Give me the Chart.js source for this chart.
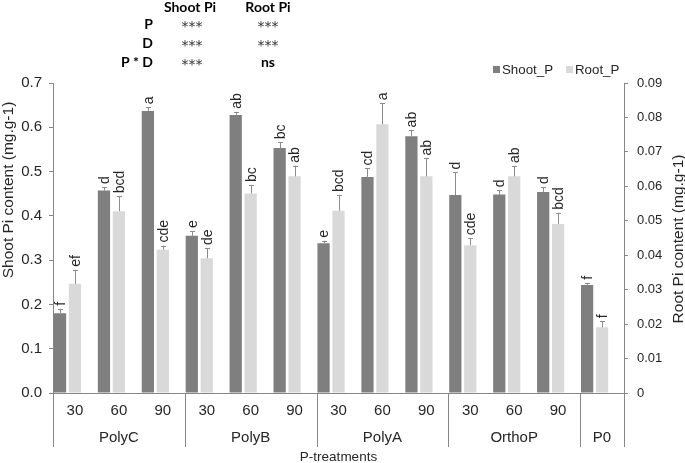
<!DOCTYPE html>
<html>
<head>
<meta charset="utf-8">
<script src="https://cdn.jsdelivr.net/npm/chart.js@4"></script>
<style>
  html,body{margin:0;padding:0;background:#fff;}
  #wrap{width:685px;height:463px;position:relative;}
</style>
</head>
<body>
<div id="wrap"><canvas id="chart" width="685" height="463"></canvas></div>
<script>
// categories along x, then the treatment group each block of them belongs to
const doses = ["30","60","90","30","60","90","30","60","90","30","60","90",""];
const groups = ["PolyC","PolyB","PolyA","OrthoP","P0"];
const groupSizes = [3,3,3,3,1];

// shoot Pi (left axis) and root Pi (right axis), with upper error bars
const shootP   = [0.180,0.457,0.637,0.355,0.628,0.553,0.338,0.488,0.580,0.447,0.448,0.454,0.244];
const shootErr = [0.010,0.008,0.008,0.011,0.007,0.013,0.006,0.019,0.013,0.051,0.010,0.011,0.005];
const rootP    = [0.0317,0.0528,0.0416,0.0391,0.0579,0.0629,0.0529,0.0780,0.0629,0.0429,0.0629,0.0491,0.0191];
const rootErr  = [0.0041,0.0043,0.0012,0.0030,0.0025,0.0031,0.0046,0.0061,0.0052,0.0020,0.0030,0.0032,0.0017];
const shootLetters = ["f","d","a","e","ab","bc","e","cd","ab","d","d","d","f"];
const rootLetters  = ["ef","bcd","cde","de","bc","ab","bcd","a","ab","cde","ab","bcd","f"];

// ANOVA table above the plot
const factors  = ["P","D","P * D"];
const shootSig = ["***","***","***"];
const rootSig  = ["***","***","ns"];

const DARK = "#7f7f7f", LIGHT = "#d9d9d9", AXIS = "#868686", TXT = "#262626";

const extras = {
  id:"extras",
  afterDatasetsDraw(chart){
    const ctx = chart.ctx;
    const sets = [[0,shootP,shootErr,shootLetters,"y"],[1,rootP,rootErr,rootLetters,"y2"]];
    ctx.save();
    sets.forEach(([di,vals,errs,letters,sid])=>{
      const meta = chart.getDatasetMeta(di), sc = chart.scales[sid];
      meta.data.forEach((bar,j)=>{
        const top = sc.getPixelForValue(vals[j]+errs[j]);
        ctx.strokeStyle = "#8c8c8c"; ctx.lineWidth = 1;
        ctx.beginPath();
        ctx.moveTo(Math.round(bar.x)+0.5, bar.y);
        ctx.lineTo(Math.round(bar.x)+0.5, top);
        ctx.moveTo(Math.round(bar.x)-2, Math.round(top)+0.5);
        ctx.lineTo(Math.round(bar.x)+3, Math.round(top)+0.5);
        ctx.stroke();
        ctx.save();
        ctx.translate(bar.x, top-3);
        ctx.rotate(-Math.PI/2);
        ctx.fillStyle = TXT;
        ctx.font = "14px 'Liberation Sans', Arial, sans-serif";
        ctx.textAlign = "left"; ctx.textBaseline = "middle";
        ctx.fillText(letters[j], 0, 1);
        ctx.restore();
      });
    });
    ctx.restore();
  },
  afterDraw(chart){
    const ctx = chart.ctx, a = chart.chartArea;
    const cw = (a.right-a.left)/doses.length;
    ctx.save();
    // group separators and names
    ctx.strokeStyle = AXIS; ctx.lineWidth = 1;
    let idx = 0;
    const bounds = [0];
    groupSizes.forEach(n=>{ idx += n; bounds.push(idx); });
    bounds.forEach(b=>{
      const x = Math.round(a.left + b*cw) + 0.5;
      ctx.beginPath(); ctx.moveTo(x, a.bottom); ctx.lineTo(x, 447); ctx.stroke();
    });
    ctx.fillStyle = TXT;
    ctx.font = "15px 'Liberation Sans', Arial, sans-serif";
    ctx.textAlign = "center"; ctx.textBaseline = "middle";
    groups.forEach((g,i)=>{
      const x = a.left + (bounds[i]+bounds[i+1])/2*cw;
      ctx.fillText(g, x, 438);
    });
    ctx.font = "13.5px 'Liberation Sans', Arial, sans-serif";
    ctx.fillText("P-treatments", (a.left+a.right)/2, 457);

    // axis titles
    ctx.font = "15.5px 'Liberation Sans', Arial, sans-serif";
    ctx.save(); ctx.translate(9,190); ctx.rotate(-Math.PI/2);
    ctx.fillText("Shoot Pi content (mg.g-1)",0,0); ctx.restore();
    ctx.save(); ctx.translate(679,239); ctx.rotate(-Math.PI/2);
    ctx.fillText("Root Pi content (mg.g-1)",0,0); ctx.restore();

    // legend
    ctx.font = "13.3px 'Liberation Sans', Arial, sans-serif";
    ctx.textAlign = "left";
    ctx.fillStyle = DARK; ctx.fillRect(493,66,7,7);
    ctx.fillStyle = TXT; ctx.fillText("Shoot_P",502,70);
    ctx.fillStyle = LIGHT; ctx.fillRect(566,66,7,7);
    ctx.fillStyle = TXT; ctx.fillText("Root_P",575,70);

    // significance table
    ctx.fillStyle = "#000";
    ctx.font = "bold 14px Lato, sans-serif";
    ctx.textAlign = "center";
    ctx.fillText("Shoot Pi",190,7);
    ctx.fillText("Root Pi",268,7);
    const rowsY = [24,43,62];
    const starFont = "14px 'DejaVu Sans', sans-serif";
    factors.forEach((f,i)=>{
      ctx.font = "bold 14px Lato, sans-serif";
      ctx.textAlign = "right";
      ctx.fillText(f,153,rowsY[i]);
      ctx.textAlign = "center";
      if(rootSig[i]==="ns") ctx.fillText(rootSig[i],268,rowsY[i]);
      ctx.font = starFont; ctx.fillStyle = "#333";
      ctx.fillText(shootSig[i],192,rowsY[i]+3);
      if(rootSig[i]!=="ns") ctx.fillText(rootSig[i],268,rowsY[i]+3);
      ctx.fillStyle = "#000";
    });
    ctx.restore();
  }
};

new Chart(document.getElementById("chart"),{
  type:"bar",
  data:{
    labels:doses,
    datasets:[
      {label:"Shoot_P", data:shootP, backgroundColor:DARK, yAxisID:"y"},
      {label:"Root_P", data:rootP, backgroundColor:LIGHT, yAxisID:"y2"},
      {label:"", data:doses.map(()=>null), yAxisID:"y"}   // empty slot, keeps Excel's offset
    ]
  },
  options:{
    responsive:false,
    animation:false,
    categoryPercentage:1.02,
    barPercentage:0.82,
    layout:{padding:{top:83,left:0,right:0,bottom:0}},
    plugins:{legend:{display:false},tooltip:{enabled:false}},
    scales:{
      x:{
        grid:{display:false,drawTicks:false},
        border:{color:AXIS},
        ticks:{color:TXT,padding:9,font:{family:"'Liberation Sans', Arial",size:15},maxRotation:0,autoSkip:false},
        afterFit(s){ s.height = 70; }
      },
      y:{
        position:"left",min:0,max:0.7,
        grid:{drawOnChartArea:false,tickLength:4,color:AXIS},
        border:{color:AXIS},
        ticks:{stepSize:0.1,padding:7,color:TXT,font:{family:"'Liberation Sans', Arial",size:15},
          callback:v=>v.toFixed(1)},
        afterFit(s){ s.width = 53; }
      },
      y2:{
        position:"right",min:0,max:0.09,
        grid:{drawOnChartArea:false,tickLength:4,color:AXIS},
        border:{color:AXIS},
        ticks:{stepSize:0.01,padding:9,color:TXT,font:{family:"'Liberation Sans', Arial",size:13},
          callback:v=>Math.abs(v)<1e-9?"0":v.toFixed(2)},
        afterFit(s){ s.width = 61; }
      }
    }
  },
  plugins:[extras]
});
</script>
</body>
</html>
